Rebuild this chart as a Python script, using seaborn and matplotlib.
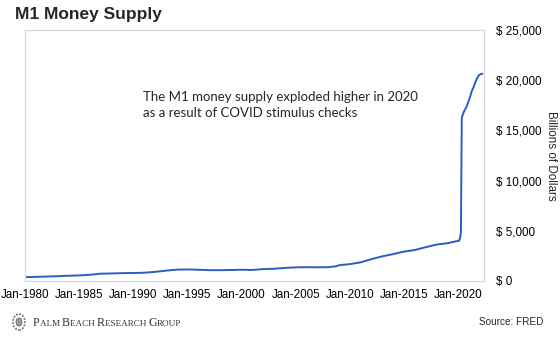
import numpy as np
import pandas as pd
import matplotlib
matplotlib.use("Agg")
import matplotlib.pyplot as plt
import matplotlib.dates as mdates
from matplotlib.patches import Ellipse
import seaborn as sns

# M1 money stock, billions of dollars (FRED M1SL)
dates = [
    "1980-01", "1981-01", "1982-01", "1983-01", "1984-01", "1985-01", "1986-01",
    "1987-01", "1988-01", "1989-01", "1990-01", "1991-01", "1992-01", "1993-01",
    "1994-01", "1995-01", "1996-01", "1997-01", "1998-01", "1999-01", "2000-01",
    "2001-01", "2002-01", "2003-01", "2004-01", "2005-01", "2006-01", "2007-01",
    "2008-01", "2008-10", "2009-01", "2010-01", "2011-01", "2012-01", "2013-01",
    "2014-01", "2015-01", "2016-01", "2017-01", "2018-01", "2019-01", "2020-01",
    "2020-02", "2020-03", "2020-04", "2020-05", "2020-06", "2020-08", "2020-10",
    "2020-12", "2021-02", "2021-04", "2021-06", "2021-08", "2021-10", "2021-12",
    "2022-02", "2022-04",
]
m1 = [
    385, 410, 442, 477, 524, 555, 620,
    730, 750, 785, 795, 827, 910, 1030,
    1130, 1150, 1120, 1080, 1075, 1095, 1120,
    1100, 1190, 1220, 1300, 1360, 1375, 1365,
    1375, 1470, 1575, 1680, 1860, 2180, 2460,
    2680, 2930, 3090, 3370, 3630, 3760, 4000,
    4010, 4260, 4800, 16250, 16550, 17000, 17300,
    17800, 18300, 18900, 19300, 19800, 20200, 20500,
    20600, 20650,
]
tick_years = [1980, 1985, 1990, 1995, 2000, 2005, 2010, 2015, 2020]
y_ticks = [0, 5000, 10000, 15000, 20000, 25000]

df = pd.DataFrame({"date": pd.to_datetime(dates), "m1": m1})

sns.set_theme(style="white")
plt.rcParams["font.family"] = ["Liberation Sans", "DejaVu Sans"]

fig = plt.figure(figsize=(5.6, 3.38), dpi=100)
ax = fig.add_axes([25 / 560, 1 - 281 / 338, (484 - 25) / 560, (281 - 30) / 338])

sns.lineplot(data=df, x="date", y="m1", ax=ax, color="#2b5cc4", linewidth=1.4)

ax.set_xlim(pd.Timestamp("1980-01-01"), pd.Timestamp("2022-05-20"))
ax.set_ylim(0, 25000)

ax.set_xticks([pd.Timestamp(f"{y}-01-01") for y in tick_years])
ax.xaxis.set_major_formatter(mdates.DateFormatter("Jan-%Y"))
ax.set_yticks(y_ticks)
ax.set_yticklabels([f"$ {v:,.0f}" for v in y_ticks])
ax.yaxis.tick_right()
ax.yaxis.set_label_position("right")
ax.tick_params(axis="both", length=0, labelsize=8.4, colors="black")
ax.tick_params(axis="y", pad=9)
ax.tick_params(axis="x", pad=6)
ax.set_xlabel("")
ax.set_ylabel("Billions of Dollars", rotation=270, fontsize=8.4, labelpad=11)

for s in ax.spines.values():
    s.set_color("#d9d9d9")
    s.set_linewidth(0.9)

fig.text(15 / 560, 1 - 14 / 338, "M1 Money Supply", fontsize=12.5,
         fontweight="bold", va="center", ha="left")

ax.text(0.257, 0.702,
        "The M1 money supply exploded higher in 2020\nas a result of COVID stimulus checks",
        transform=ax.transAxes, fontsize=9.5, family=["Lato", "DejaVu Sans"],
        va="center", ha="left", linespacing=1.4)

# footer: publisher seal and name
seal = Ellipse((19 / 560, 1 - 322 / 338), 12 / 560, 16 / 338,
               transform=fig.transFigure, facecolor="none",
               edgecolor="#777777", linewidth=1.2, linestyle=(0, (1.2, 0.8)))
fig.add_artist(seal)
fig.add_artist(Ellipse((19 / 560, 1 - 322 / 338), 6 / 560, 8 / 338,
                       transform=fig.transFigure, facecolor="#9a9a9a",
                       edgecolor="#666666", linewidth=0.6))
x0 = 33 / 560
parts = [("P", 8.6), ("ALM ", 6.6), ("B", 8.6), ("EACH ", 6.6), ("R", 8.6),
         ("ESEARCH ", 6.6), ("G", 8.6), ("ROUP", 6.6)]
renderer = fig.canvas.get_renderer()
x = x0
for txt, fs in parts:
    t = fig.text(x, 1 - 323 / 338, txt, fontsize=fs, color="#333333",
                 family=["Liberation Serif"], va="baseline", ha="left")
    t.set_y(1 - 326 / 338)
    bb = t.get_window_extent(renderer=renderer)
    x += bb.width / fig.bbox.width

fig.text(543 / 560, 1 - 322 / 338, "Source: FRED", fontsize=7.2,
         va="center", ha="right")

fig.savefig("out.png", dpi=100)
